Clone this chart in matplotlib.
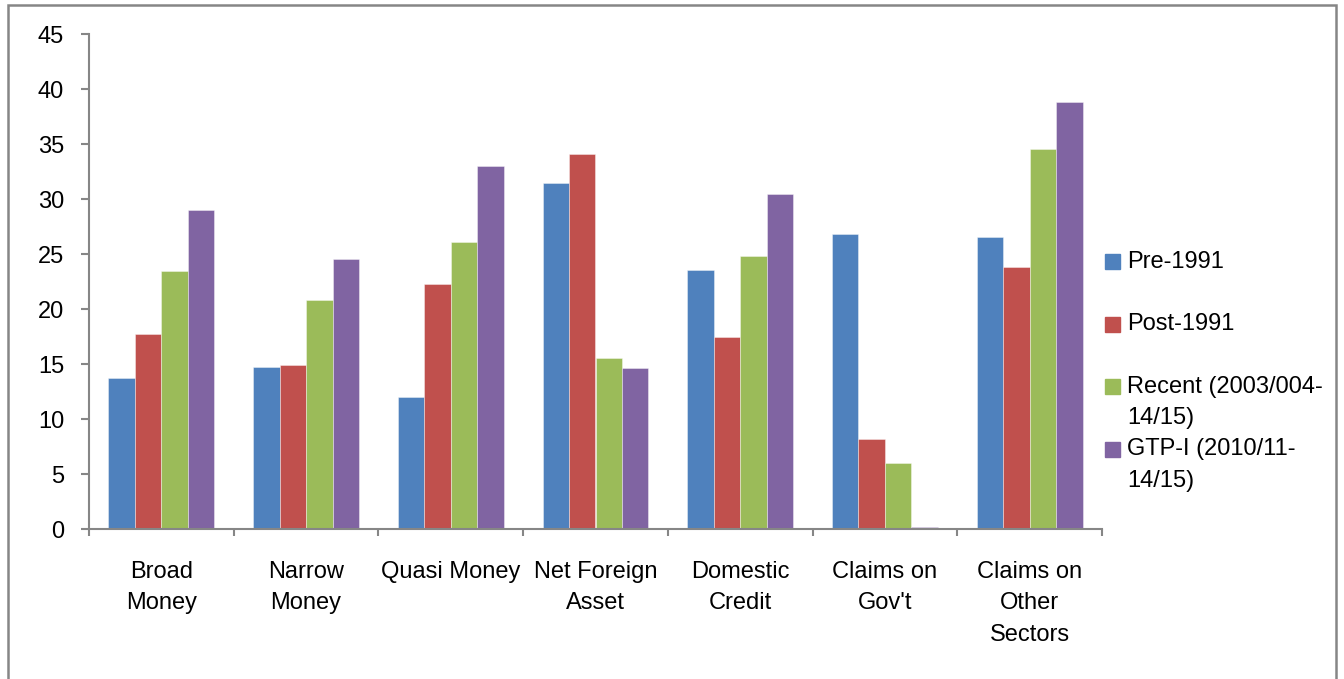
import numpy as np
import matplotlib
matplotlib.use("Agg")
import matplotlib.pyplot as plt
from matplotlib.patches import Rectangle

categories = ["Broad\nMoney", "Narrow\nMoney", "Quasi Money", "Net Foreign\nAsset",
              "Domestic\nCredit", "Claims on\nGov't", "Claims on\nOther\nSectors"]
series_names = ["Pre-1991", "Post-1991", "Recent (2003/004-\n14/15)", "GTP-I (2010/11-\n14/15)"]
pre_1991 = [13.7, 14.7, 12.0, 31.5, 23.6, 26.8, 26.6]
post_1991 = [17.7, 14.9, 22.3, 34.1, 17.5, 8.2, 23.8]
recent = [23.5, 20.8, 26.1, 15.6, 24.8, 6.0, 34.6]
gtp_1 = [29.0, 24.6, 33.0, 14.6, 30.5, 0.2, 38.8]
colors = ["#4F81BD", "#C0504D", "#9BBB59", "#8064A2"]

W, H = 1344, 679
plt.rcParams["font.family"] = ["Liberation Sans", "DejaVu Sans"]
plt.rcParams["font.size"] = 17

fig = plt.figure(figsize=(W / 100, H / 100), dpi=100)
ax = fig.add_axes([89 / W, 1 - 529 / H, (1102 - 89) / W, (529 - 34.3) / H])

x = np.arange(len(categories))
w = 0.183
for i, vals in enumerate([pre_1991, post_1991, recent, gtp_1]):
    ax.bar(x + (i - 1.5) * w, vals, width=w, color=colors[i],
           edgecolor=(1, 1, 1, 0.45), linewidth=0.6)

ax.set_xlim(-0.5, len(categories) - 0.5)
ax.set_ylim(0, 45)
ax.set_yticks(range(0, 50, 5))

for s in ["top", "right"]:
    ax.spines[s].set_visible(False)
for s in ["left", "bottom"]:
    ax.spines[s].set_color("#868686")
    ax.spines[s].set_linewidth(1.5)

# category labels sit on major ticks, boundary marks are minor ticks
ax.set_xticks(x)
ax.set_xticklabels(categories, linespacing=1.55)
ax.set_xticks(np.arange(-0.5, len(categories)), minor=True)
ax.tick_params(axis="x", which="major", length=0, pad=23)
ax.tick_params(axis="x", which="minor", length=5, width=1.5, color="#868686", direction="out")
ax.tick_params(axis="y", length=6, width=1.5, color="#868686", direction="out", pad=12)

# legend drawn by hand so the swatch lines up with the first text line
row_h = 31.3
rows = 0
for name, c in zip(series_names, colors):
    yc = 261.7 + rows * row_h
    fig.patches.append(Rectangle((1105 / W, 1 - (yc + 7.5) / H), 15 / W, 15 / H,
                                 transform=fig.transFigure, color=c))
    lines = name.split("\n")
    for j, ln in enumerate(lines):
        fig.text(1127 / W, 1 - (yc + j * row_h) / H, ln, va="center", ha="left")
    rows += 2

# chart area border
fig.patches.append(Rectangle((8 / W, -0.02), (1336 - 8) / W, 1.02 - 5 / H,
                             transform=fig.transFigure, fill=False,
                             edgecolor="#868686", linewidth=1.8))

fig.savefig("out.png", dpi=100)
